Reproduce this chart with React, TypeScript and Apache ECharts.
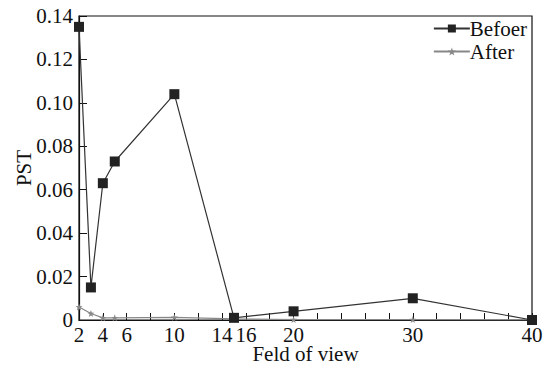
import React, { useEffect, useRef } from "react";
import * as echarts from "echarts";

const xValues = [2, 3, 4, 5, 10, 15, 20, 30, 40];
const beforeValues = [0.135, 0.015, 0.063, 0.073, 0.104, 0.001, 0.004, 0.010, 0.0];
const afterValues = [0.006, 0.003, 0.001, 0.001, 0.0012, 0.0005, 0.0002, 0.0002, 0.0];
const xTickLabels = [2, 4, 6, 10, 14, 16, 20, 30, 40];
const seriesNames = ["Befoer", "After"];

const FONT = "Liberation Serif";

export default function App() {
  const ref = useRef<HTMLDivElement>(null);
  useEffect(() => {
    if (!ref.current) return;
    const chart = echarts.init(ref.current, null, { renderer: "svg" });
    chart.setOption({
      animation: false,
      textStyle: { fontFamily: FONT },
      grid: {
        left: 79,
        right: 22,
        top: 16,
        bottom: 52,
        outerBoundsMode: "none",
        containLabel: false,
        show: true,
        borderColor: "#111",
        borderWidth: 1.2,
      },
      legend: {
        right: 22,
        top: 13,
        orient: "vertical",
        itemGap: 2,
        itemWidth: 36,
        itemHeight: 10,
        textStyle: { fontFamily: FONT, fontSize: 21, lineHeight: 20, color: "#111", padding: [0, 0, 0, -5] },
        data: seriesNames,
      },
      xAxis: {
        type: "value",
        min: 2,
        max: 40,
        interval: 2,
        name: "Feld of view",
        nameLocation: "middle",
        nameGap: 25,
        nameMoveOverlap: false,
        nameTextStyle: { fontFamily: FONT, fontSize: 21, lineHeight: 18, color: "#111" },
        axisLine: { lineStyle: { color: "#111", width: 1.2 } },
        axisTick: { inside: true, length: 7, lineStyle: { color: "#111" } },
        splitLine: { show: false },
        axisLabel: {
          fontFamily: FONT,
          fontSize: 21,
          lineHeight: 18,
          color: "#111",
          margin: 6,
          showMinLabel: true,
          showMaxLabel: true,
          formatter: (v: number) => (xTickLabels.includes(Math.round(v)) ? String(Math.round(v)) : ""),
        },
      },
      yAxis: {
        type: "value",
        min: 0,
        max: 0.14,
        interval: 0.02,
        name: "PST",
        nameLocation: "middle",
        nameGap: 45,
        nameMoveOverlap: false,
        nameTextStyle: { fontFamily: FONT, fontSize: 21, color: "#111" },
        axisLine: { show: true, lineStyle: { color: "#111", width: 1.2 } },
        axisTick: { show: true, inside: true, length: 8, lineStyle: { color: "#111" } },
        splitLine: { show: false },
        axisLabel: {
          fontFamily: FONT,
          fontSize: 21,
          color: "#111",
          margin: 6,
          formatter: (v: number) => (v === 0 ? "0" : v.toFixed(2)),
        },
      },
      series: [
        {
          name: seriesNames[0],
          type: "line",
          data: xValues.map((x, i) => [x, beforeValues[i]]),
          symbol: "rect",
          symbolSize: 10,
          itemStyle: { color: "#222" },
          lineStyle: { color: "#333", width: 1.2 },
          z: 3,
        },
        {
          name: seriesNames[1],
          type: "line",
          data: xValues.map((x, i) => [x, afterValues[i]]),
          symbol: "path://M0,-10L2.4,-3.3L9.5,-3.1L3.8,1.2L5.9,8.1L0,4L-5.9,8.1L-3.8,1.2L-9.5,-3.1L-2.4,-3.3Z",
          symbolSize: 7,
          itemStyle: { color: "#888" },
          lineStyle: { color: "#888", width: 1.2 },
          z: 2,
        },
      ],
    });
    return () => chart.dispose();
  }, []);
  return <div ref={ref} style={{ width: 554, height: 372, margin: -8 }} />;
}
